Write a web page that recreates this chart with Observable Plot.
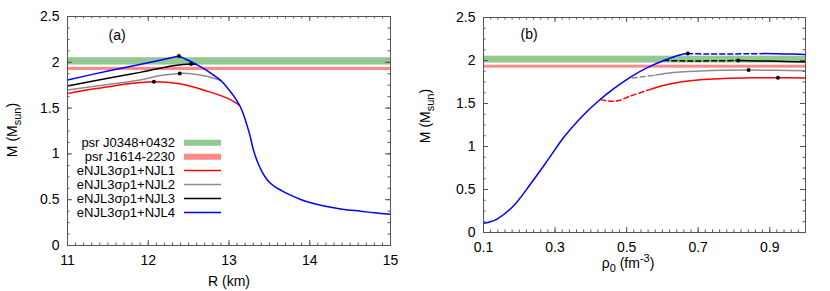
<!DOCTYPE html>
<html><head><meta charset="utf-8">
<script src="https://cdn.jsdelivr.net/npm/d3@7"></script>
<script src="https://cdn.jsdelivr.net/npm/@observablehq/plot@0.6"></script>
<style>
body{margin:0;background:#fff;}
#wrap{position:relative;width:830px;height:291px;background:#fff;}
#a{position:absolute;left:0;top:0;}
#b{position:absolute;left:410px;top:0;}
</style></head><body><div id="wrap"><div id="a"></div><div id="b"></div></div>
<script>
const FONT = "'Liberation Sans', Arial, Helvetica, sans-serif";
// ---- axes / ticks ----
const xDomainA = [11, 15];
const xDomainB = [0.1, 1.0];
const yDomain = [0, 2.5];
const xTicksA = [11, 12, 13, 14, 15];
const xTicksB = [0.1, 0.3, 0.5, 0.7, 0.9];
const yTicks = [0, 0.5, 1, 1.5, 2, 2.5];
// ---- legend / series ----
const seriesNames = ["eNJL3σρ1+NJL1", "eNJL3σρ1+NJL2", "eNJL3σρ1+NJL3", "eNJL3σρ1+NJL4"];
const seriesColors = ["#ff0000", "#8c8c8c", "#000000", "#0000ff"];
const bandNames = ["psr J0348+0432", "psr J1614-2230"];
const bandColors = ["#91c991", "#ff8888"];
const bandLow = [1.97, 1.911];
const bandHigh = [2.05, 1.945];
// ---- panel (a): M vs R ----
const rRed = [11, 11.25, 11.5, 11.75, 12.07, 12.39, 12.73, 13.0, 13.13];
const mRed = [1.658, 1.70, 1.732, 1.765, 1.788, 1.765, 1.685, 1.60, 1.53];
const rGray = [11, 11.5, 11.9, 12.15, 12.39, 12.6, 12.75, 12.9];
const mGray = [1.698, 1.758, 1.807, 1.855, 1.879, 1.868, 1.843, 1.80];
const rBlack = [11, 11.5, 11.9, 12.31, 12.53, 12.6];
const mBlack = [1.741, 1.825, 1.89, 1.963, 1.981, 1.975];
const rBlue = [11, 11.5, 12, 12.38];
const mBlue = [1.807, 1.905, 1.995, 2.069];
const rHad = [12.38, 12.5, 12.6, 12.7, 12.8, 12.9, 13.0, 13.06, 13.1, 13.14, 13.18, 13.22, 13.26, 13.3, 13.35, 13.4, 13.45, 13.5, 13.57, 13.65, 13.75, 13.88, 14.0, 14.21, 14.4, 14.63, 14.8, 15.0];
const mHad = [2.069, 2.02, 1.975, 1.925, 1.865, 1.80, 1.70, 1.63, 1.575, 1.515, 1.43, 1.32, 1.20, 1.05, 0.92, 0.82, 0.745, 0.69, 0.64, 0.60, 0.555, 0.505, 0.47, 0.425, 0.397, 0.374, 0.357, 0.34];
const rMax = [12.07, 12.39, 12.53, 12.38];
const mMaxA = [1.788, 1.879, 1.981, 2.069];
// ---- panel (b): M vs rho0 ----
const rhoBlue = [0.1, 0.115, 0.139, 0.185, 0.232, 0.279, 0.325, 0.372, 0.418, 0.464, 0.511, 0.558, 0.604, 0.651, 0.671];
const mBlueB = [0.108, 0.12, 0.159, 0.314, 0.567, 0.838, 1.11, 1.335, 1.517, 1.672, 1.808, 1.917, 2.0, 2.068, 2.08];
const rhoBlueDash = [0.671, 0.72, 0.78, 0.84, 0.885];
const mBlueDash = [2.08, 2.076, 2.075, 2.079, 2.08];
const rhoBlueEnd = [0.885, 0.94, 1.0];
const mBlueEnd = [2.08, 2.077, 2.07];
const rhoBlackDash = [0.604, 0.65, 0.70, 0.75, 0.812];
const mBlackDash = [2.0, 1.996, 1.995, 1.997, 1.999];
const rhoBlackEnd = [0.812, 0.9, 1.0];
const mBlackEnd = [1.999, 1.993, 1.983];
const rhoGrayDash = [0.516, 0.545, 0.58];
const mGrayDash = [1.796, 1.81, 1.83];
const rhoGrayEnd = [0.58, 0.614, 0.65, 0.706, 0.77, 0.841, 0.92, 1.0];
const mGrayEnd = [1.83, 1.852, 1.866, 1.878, 1.886, 1.889, 1.886, 1.88];
const rhoRedDash = [0.427, 0.445, 0.464, 0.48, 0.492, 0.52, 0.558];
const mRedDash = [1.545, 1.53, 1.525, 1.535, 1.556, 1.60, 1.653];
const rhoRedEnd = [0.558, 0.608, 0.651, 0.706, 0.77, 0.85, 0.923, 1.0];
const mRedEnd = [1.653, 1.715, 1.75, 1.777, 1.79, 1.798, 1.80, 1.797];
const rhoMax = [0.923, 0.841, 0.812, 0.671];
const mMaxB = [1.80, 1.889, 1.999, 2.08];

function pts(xs, ys) { return xs.map((x, i) => ({x, y: ys[i]})); }
const bands = bandNames.map((n, i) => ({name: n, lo: bandLow[i], hi: bandHigh[i], color: bandColors[i]}));
const FRAME = "#555";

function tickMarks(xMajor, xMinor, fw, fh) {
  const L = 5, l = 2.5, s = {stroke: FRAME, strokeWidth: 1};
  return [
    Plot.tickX(xMajor, {x: d => d, insetTop: fh - L, ...s}),
    Plot.tickX(xMajor, {x: d => d, insetBottom: fh - L, ...s}),
    Plot.tickX(xMinor, {x: d => d, insetTop: fh - l, ...s}),
    Plot.tickX(xMinor, {x: d => d, insetBottom: fh - l, ...s}),
    Plot.tickY(yTicks, {y: d => d, insetRight: fw - L, ...s}),
    Plot.tickY(yTicks, {y: d => d, insetLeft: fw - L, ...s}),
    Plot.tickY(d3.range(0, 2.5001, 0.125), {y: d => d, insetRight: fw - l, ...s}),
    Plot.tickY(d3.range(0, 2.5001, 0.125), {y: d => d, insetLeft: fw - l, ...s})
  ];
}
function bandMarks(xd) {
  return bands.map(b => Plot.rect([b], {x1: () => xd[0], x2: () => xd[1], y1: "lo", y2: "hi", fill: b.color}));
}
const lineOpt = (c, dash) => ({x: "x", y: "y", stroke: c, strokeWidth: 1.5, curve: "catmull-rom", strokeDasharray: dash});

// ---------- panel (a) ----------
const WA = 410, HA = 291, mlA = 67, mrA = 20, mtA = 16, mbA = 46;
const plotA = Plot.plot({
  width: WA, height: HA, marginLeft: mlA, marginRight: mrA, marginTop: mtA, marginBottom: mbA,
  style: {fontFamily: FONT, fontSize: "14px", background: "white", color: "black"},
  x: {domain: xDomainA}, y: {domain: yDomain},
  marks: [
    ...bandMarks(xDomainA),
    Plot.line(pts(rRed, mRed), lineOpt(seriesColors[0])),
    Plot.line(pts(rGray, mGray), lineOpt(seriesColors[1])),
    Plot.line(pts(rBlack, mBlack), lineOpt(seriesColors[2])),
    Plot.line(pts(rBlue, mBlue), lineOpt(seriesColors[3])),
    Plot.line(pts(rHad, mHad), lineOpt(seriesColors[3])),
    Plot.dot(pts(rMax, mMaxA), {x: "x", y: "y", r: 2, fill: "black"}),
    ...tickMarks(xTicksA, d3.range(11, 15.0001, 0.1), WA - mlA - mrA, HA - mtA - mbA),
    Plot.frame({stroke: FRAME}),
    Plot.axisX({ticks: xTicksA, tickSize: 0, tickPadding: 10, label: null, tickFormat: d => String(d), fontSize: 14}),
    Plot.axisY({ticks: yTicks, tickSize: 0, tickPadding: 8, label: null, tickFormat: d => String(d), fontSize: 14}),
    Plot.text(["(a)"], {frameAnchor: "top-left", textAnchor: "start", lineAnchor: "top", dx: 41, dy: 14, fontSize: 14})
  ]
});
document.getElementById("a").appendChild(plotA);

// ---------- panel (b) ----------
const WB = 420, HB = 291, mlB = 73, mrB = 25, mtB = 17, mbB = 59;
const plotB = Plot.plot({
  width: WB, height: HB, marginLeft: mlB, marginRight: mrB, marginTop: mtB, marginBottom: mbB,
  style: {fontFamily: FONT, fontSize: "14px", background: "white", color: "black"},
  x: {domain: xDomainB}, y: {domain: yDomain},
  marks: [
    ...bandMarks(xDomainB),
    Plot.line(pts(rhoRedDash, mRedDash), lineOpt(seriesColors[0], "5,3")),
    Plot.line(pts(rhoRedEnd, mRedEnd), lineOpt(seriesColors[0])),
    Plot.line(pts(rhoGrayDash, mGrayDash), lineOpt(seriesColors[1], "5,3")),
    Plot.line(pts(rhoGrayEnd, mGrayEnd), lineOpt(seriesColors[1])),
    Plot.line(pts(rhoBlackDash, mBlackDash), lineOpt(seriesColors[2], "5,3")),
    Plot.line(pts(rhoBlackEnd, mBlackEnd), lineOpt(seriesColors[2])),
    Plot.line(pts(rhoBlue, mBlueB), lineOpt(seriesColors[3])),
    Plot.line(pts(rhoBlueDash, mBlueDash), lineOpt(seriesColors[3], "5,3")),
    Plot.line(pts(rhoBlueEnd, mBlueEnd), lineOpt(seriesColors[3])),
    Plot.dot(pts(rhoMax, mMaxB), {x: "x", y: "y", r: 2, fill: "black"}),
    ...tickMarks(xTicksB, d3.range(0.1, 1.0001, 0.02), WB - mlB - mrB, HB - mtB - mbB),
    Plot.frame({stroke: FRAME}),
    Plot.axisX({ticks: xTicksB, tickSize: 0, tickPadding: 10, label: null, tickFormat: d => String(d), fontSize: 14}),
    Plot.axisY({ticks: yTicks, tickSize: 0, tickPadding: 8, label: null, tickFormat: d => String(d), fontSize: 14}),
    Plot.text(["(b)"], {frameAnchor: "top-left", textAnchor: "start", lineAnchor: "top", dx: 37, dy: 12, fontSize: 14})
  ]
});
document.getElementById("b").appendChild(plotB);

// ---------- axis titles with sub/superscripts ----------
function yTitle(svg, x, y) {
  const t = d3.select(svg).append("text")
    .attr("transform", `translate(${x},${y}) rotate(-90)`)
    .attr("text-anchor", "middle").attr("font-family", FONT).attr("font-size", 14).attr("fill", "black");
  t.append("tspan").text("M (M");
  t.append("tspan").attr("dy", 4).attr("font-size", 11).text("sun");
  t.append("tspan").attr("dy", -4).text(")");
}
yTitle(plotA, 17, 130);
yTitle(plotB, 20, 116);
d3.select(plotA).append("text").attr("x", 229).attr("y", 286).attr("text-anchor", "middle")
  .attr("font-family", FONT).attr("font-size", 14).attr("fill", "black").text("R (km)");
{
  const t = d3.select(plotB).append("text").attr("x", 218).attr("y", 268).attr("text-anchor", "middle")
    .attr("font-family", FONT).attr("font-size", 14).attr("fill", "black");
  t.append("tspan").text("ρ");
  t.append("tspan").attr("dy", 4).attr("font-size", 11).text("0");
  t.append("tspan").attr("dy", -4).text(" (fm");
  t.append("tspan").attr("dy", -6).attr("font-size", 11).text("-3");
  t.append("tspan").attr("dy", 6).text(")");
}

// ---------- legend (panel a) ----------
{
  const g = d3.select(plotA).append("g").attr("font-family", FONT).attr("font-size", 13);
  const entries = [
    ...bandNames.map((n, i) => ({name: n, color: bandColors[i], w: 6})),
    ...seriesNames.map((n, i) => ({name: n, color: seriesColors[i], w: 1.5}))
  ];
  entries.forEach((e, i) => {
    const cy = 142.7 + i * 13.95;
    g.append("text").attr("x", 175).attr("y", cy + 4.5).attr("text-anchor", "end").attr("fill", "black").text(e.name);
    g.append("line").attr("x1", 184).attr("x2", 221).attr("y1", cy).attr("y2", cy)
      .attr("stroke", e.color).attr("stroke-width", e.w);
  });
}
</script></body></html>
